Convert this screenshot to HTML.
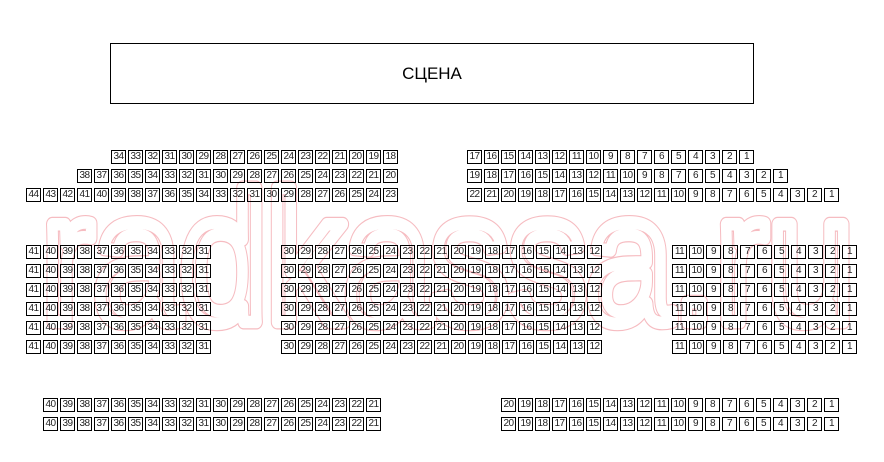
<!DOCTYPE html>
<html><head><meta charset="utf-8"><style>
*{margin:0;padding:0;box-sizing:border-box}
body{width:884px;height:462px;background:#fff;position:relative;overflow:hidden;font-family:"Liberation Sans",sans-serif}
.stage{position:absolute;left:110px;top:43px;width:644px;height:61px;border:1px solid #000;font-size:17px;text-align:center;line-height:60px;color:#000}
.r{position:absolute;display:flex;gap:2px;height:14px}
.r i{font-style:normal;display:block;width:15px;height:14px;border:1px solid #000;font-size:10px;line-height:12px;text-align:center;letter-spacing:-0.6px;color:#222}
svg{position:absolute;left:0;top:0}
</style></head><body>
<svg width="884" height="462" viewBox="0 0 884 462">
<text x="42" y="322" font-family="Liberation Sans, sans-serif" font-size="185" fill="none" stroke="#f6bcc1" stroke-width="15" stroke-linejoin="round" stroke-linecap="round" textLength="812" lengthAdjust="spacingAndGlyphs">radkassa.ru</text>
<text x="42" y="322" font-family="Liberation Sans, sans-serif" font-size="185" fill="none" stroke="#fff" stroke-width="12.6" stroke-linejoin="round" stroke-linecap="round" textLength="812" lengthAdjust="spacingAndGlyphs">radkassa.ru</text>
</svg>
<div class="stage">СЦЕНА</div>

<div class="r" style="left:111px;top:150px"><i>34</i><i>33</i><i>32</i><i>31</i><i>30</i><i>29</i><i>28</i><i>27</i><i>26</i><i>25</i><i>24</i><i>23</i><i>22</i><i>21</i><i>20</i><i>19</i><i>18</i></div>
<div class="r" style="left:77px;top:169px"><i>38</i><i>37</i><i>36</i><i>35</i><i>34</i><i>33</i><i>32</i><i>31</i><i>30</i><i>29</i><i>28</i><i>27</i><i>26</i><i>25</i><i>24</i><i>23</i><i>22</i><i>21</i><i>20</i></div>
<div class="r" style="left:26px;top:188px"><i>44</i><i>43</i><i>42</i><i>41</i><i>40</i><i>39</i><i>38</i><i>37</i><i>36</i><i>35</i><i>34</i><i>33</i><i>32</i><i>31</i><i>30</i><i>29</i><i>28</i><i>27</i><i>26</i><i>25</i><i>24</i><i>23</i></div>

<div class="r" style="left:467px;top:150px"><i>17</i><i>16</i><i>15</i><i>14</i><i>13</i><i>12</i><i>11</i><i>10</i><i>9</i><i>8</i><i>7</i><i>6</i><i>5</i><i>4</i><i>3</i><i>2</i><i>1</i></div>
<div class="r" style="left:467px;top:169px"><i>19</i><i>18</i><i>17</i><i>16</i><i>15</i><i>14</i><i>13</i><i>12</i><i>11</i><i>10</i><i>9</i><i>8</i><i>7</i><i>6</i><i>5</i><i>4</i><i>3</i><i>2</i><i>1</i></div>
<div class="r" style="left:467px;top:188px"><i>22</i><i>21</i><i>20</i><i>19</i><i>18</i><i>17</i><i>16</i><i>15</i><i>14</i><i>13</i><i>12</i><i>11</i><i>10</i><i>9</i><i>8</i><i>7</i><i>6</i><i>5</i><i>4</i><i>3</i><i>2</i><i>1</i></div>

<div class="r" style="left:26px;top:245px"><i>41</i><i>40</i><i>39</i><i>38</i><i>37</i><i>36</i><i>35</i><i>34</i><i>33</i><i>32</i><i>31</i></div>
<div class="r" style="left:26px;top:264px"><i>41</i><i>40</i><i>39</i><i>38</i><i>37</i><i>36</i><i>35</i><i>34</i><i>33</i><i>32</i><i>31</i></div>
<div class="r" style="left:26px;top:283px"><i>41</i><i>40</i><i>39</i><i>38</i><i>37</i><i>36</i><i>35</i><i>34</i><i>33</i><i>32</i><i>31</i></div>
<div class="r" style="left:26px;top:302px"><i>41</i><i>40</i><i>39</i><i>38</i><i>37</i><i>36</i><i>35</i><i>34</i><i>33</i><i>32</i><i>31</i></div>
<div class="r" style="left:26px;top:321px"><i>41</i><i>40</i><i>39</i><i>38</i><i>37</i><i>36</i><i>35</i><i>34</i><i>33</i><i>32</i><i>31</i></div>
<div class="r" style="left:26px;top:340px"><i>41</i><i>40</i><i>39</i><i>38</i><i>37</i><i>36</i><i>35</i><i>34</i><i>33</i><i>32</i><i>31</i></div>

<div class="r" style="left:281px;top:245px"><i>30</i><i>29</i><i>28</i><i>27</i><i>26</i><i>25</i><i>24</i><i>23</i><i>22</i><i>21</i><i>20</i><i>19</i><i>18</i><i>17</i><i>16</i><i>15</i><i>14</i><i>13</i><i>12</i></div>
<div class="r" style="left:281px;top:264px"><i>30</i><i>29</i><i>28</i><i>27</i><i>26</i><i>25</i><i>24</i><i>23</i><i>22</i><i>21</i><i>20</i><i>19</i><i>18</i><i>17</i><i>16</i><i>15</i><i>14</i><i>13</i><i>12</i></div>
<div class="r" style="left:281px;top:283px"><i>30</i><i>29</i><i>28</i><i>27</i><i>26</i><i>25</i><i>24</i><i>23</i><i>22</i><i>21</i><i>20</i><i>19</i><i>18</i><i>17</i><i>16</i><i>15</i><i>14</i><i>13</i><i>12</i></div>
<div class="r" style="left:281px;top:302px"><i>30</i><i>29</i><i>28</i><i>27</i><i>26</i><i>25</i><i>24</i><i>23</i><i>22</i><i>21</i><i>20</i><i>19</i><i>18</i><i>17</i><i>16</i><i>15</i><i>14</i><i>13</i><i>12</i></div>
<div class="r" style="left:281px;top:321px"><i>30</i><i>29</i><i>28</i><i>27</i><i>26</i><i>25</i><i>24</i><i>23</i><i>22</i><i>21</i><i>20</i><i>19</i><i>18</i><i>17</i><i>16</i><i>15</i><i>14</i><i>13</i><i>12</i></div>
<div class="r" style="left:281px;top:340px"><i>30</i><i>29</i><i>28</i><i>27</i><i>26</i><i>25</i><i>24</i><i>23</i><i>22</i><i>21</i><i>20</i><i>19</i><i>18</i><i>17</i><i>16</i><i>15</i><i>14</i><i>13</i><i>12</i></div>

<div class="r" style="left:672px;top:245px"><i>11</i><i>10</i><i>9</i><i>8</i><i>7</i><i>6</i><i>5</i><i>4</i><i>3</i><i>2</i><i>1</i></div>
<div class="r" style="left:672px;top:264px"><i>11</i><i>10</i><i>9</i><i>8</i><i>7</i><i>6</i><i>5</i><i>4</i><i>3</i><i>2</i><i>1</i></div>
<div class="r" style="left:672px;top:283px"><i>11</i><i>10</i><i>9</i><i>8</i><i>7</i><i>6</i><i>5</i><i>4</i><i>3</i><i>2</i><i>1</i></div>
<div class="r" style="left:672px;top:302px"><i>11</i><i>10</i><i>9</i><i>8</i><i>7</i><i>6</i><i>5</i><i>4</i><i>3</i><i>2</i><i>1</i></div>
<div class="r" style="left:672px;top:321px"><i>11</i><i>10</i><i>9</i><i>8</i><i>7</i><i>6</i><i>5</i><i>4</i><i>3</i><i>2</i><i>1</i></div>
<div class="r" style="left:672px;top:340px"><i>11</i><i>10</i><i>9</i><i>8</i><i>7</i><i>6</i><i>5</i><i>4</i><i>3</i><i>2</i><i>1</i></div>

<div class="r" style="left:43px;top:398px"><i>40</i><i>39</i><i>38</i><i>37</i><i>36</i><i>35</i><i>34</i><i>33</i><i>32</i><i>31</i><i>30</i><i>29</i><i>28</i><i>27</i><i>26</i><i>25</i><i>24</i><i>23</i><i>22</i><i>21</i></div>
<div class="r" style="left:43px;top:417px"><i>40</i><i>39</i><i>38</i><i>37</i><i>36</i><i>35</i><i>34</i><i>33</i><i>32</i><i>31</i><i>30</i><i>29</i><i>28</i><i>27</i><i>26</i><i>25</i><i>24</i><i>23</i><i>22</i><i>21</i></div>

<div class="r" style="left:501px;top:398px"><i>20</i><i>19</i><i>18</i><i>17</i><i>16</i><i>15</i><i>14</i><i>13</i><i>12</i><i>11</i><i>10</i><i>9</i><i>8</i><i>7</i><i>6</i><i>5</i><i>4</i><i>3</i><i>2</i><i>1</i></div>
<div class="r" style="left:501px;top:417px"><i>20</i><i>19</i><i>18</i><i>17</i><i>16</i><i>15</i><i>14</i><i>13</i><i>12</i><i>11</i><i>10</i><i>9</i><i>8</i><i>7</i><i>6</i><i>5</i><i>4</i><i>3</i><i>2</i><i>1</i></div>
</body></html>
